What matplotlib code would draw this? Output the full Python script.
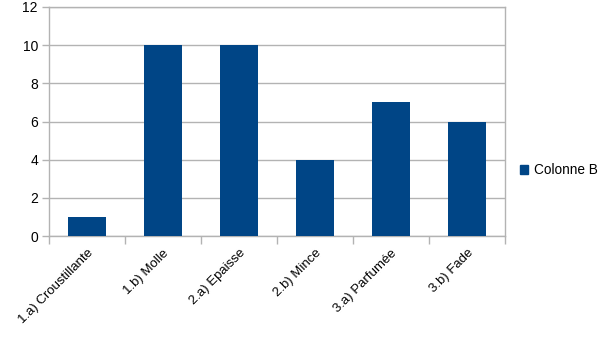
import matplotlib.pyplot as plt
from matplotlib.patches import Patch

categories = ['1.a) Croustillante', '1.b) Molle', '2.a) Epaisse', '2.b) Mince',
              '3.a) Parfumée', '3.b) Fade']
values = [1, 10, 10, 4, 7, 6]
series_name = 'Colonne B'

plt.rcParams['font.family'] = ['Liberation Sans', 'DejaVu Sans']

fig = plt.figure(figsize=(6.05, 3.4), dpi=100)
ax = fig.add_axes([49 / 605, 1 - 236 / 340, 456 / 605, 229 / 340])

bar_color = '#004586'
grid_color = '#b3b3b3'
x = range(len(categories))
ax.bar(x, values, width=0.5, color=bar_color, zorder=3)

ax.set_xlim(-0.5, len(categories) - 0.5)
ax.set_ylim(0, 12)
ax.set_yticks(range(0, 13, 2))
ax.yaxis.grid(True, color=grid_color, linewidth=1)
ax.set_axisbelow(True)

# ticks at category boundaries, labels at centres
ax.set_xticks([i - 0.5 for i in range(len(categories) + 1)])
ax.set_xticklabels([])
ax.set_xticks(list(x), minor=True)
ax.set_xticklabels(categories, minor=True, rotation=45, ha='right',
                   rotation_mode='anchor', fontsize=9.5)
ax.tick_params(axis='x', which='major', length=6, color=grid_color, width=1)
ax.tick_params(axis='x', which='minor', length=0, pad=8)
ax.tick_params(axis='y', length=5, color=grid_color, width=1, labelsize=10, pad=3)

for s in ax.spines.values():
    s.set_color(grid_color)
    s.set_linewidth(1)

fig.legend(handles=[Patch(color=bar_color, label=series_name)],
           loc='center left', bbox_to_anchor=(508 / 605, 1 - 170 / 340),
           frameon=False, fontsize=9.8, handlelength=0.6, handleheight=0.6,
           handletextpad=0.4)

fig.savefig('out.png', dpi=100)
